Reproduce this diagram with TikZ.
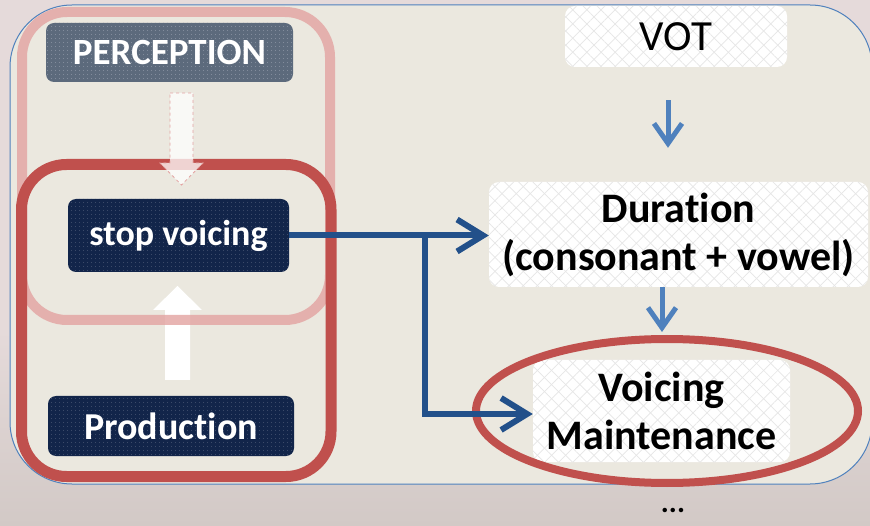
\documentclass[tikz,border=0pt]{standalone}
\usepackage{fontspec}
\setmainfont{Carlito}[Ligatures={NoCommon}]
\usetikzlibrary{arrows.meta,patterns,patterns.meta,shapes.geometric}
\definecolor{bg}{HTML}{E5DADA}
\definecolor{bgdark}{HTML}{D2C9C6}
\definecolor{panel}{HTML}{EBE8DF}
\definecolor{panelline}{HTML}{4F81BD}
\definecolor{navy}{HTML}{12254A}
\definecolor{slate}{HTML}{5C6A7C}
\definecolor{redline}{HTML}{C0504D}
\definecolor{pinkline}{HTML}{E3A3A1}
\definecolor{lblue}{HTML}{4F81BD}
\definecolor{dblue}{HTML}{22508A}
\definecolor{hatch}{HTML}{E6E6E6}
\tikzset{
  darkbox/.style={rounded corners=8, fill=navy, text=white, inner sep=0,
    postaction={pattern={Dots[distance=4pt,radius=0.45pt]}, pattern color=white!35!navy}},
  whitebox/.style={rounded corners=10, fill=white, text=black, inner sep=0, align=center,
    postaction={pattern={Lines[angle=45,distance=10pt,line width=0.7pt]}, pattern color=hatch},
    postaction={pattern={Lines[angle=-45,distance=10pt,line width=0.7pt]}, pattern color=hatch}},
  lbarrow/.style={draw=lblue, line width=5, -{Straight Barb[length=20,width=28]}},
  dbarrow/.style={draw=dblue, line width=6, -{Straight Barb[length=26,width=32]}},
}
\newcommand{\fs}[1]{\fontsize{#1}{#1}\selectfont}
\begin{document}
\begin{tikzpicture}[x=1pt,y=-1pt]
\useasboundingbox (0,0) rectangle (870,526);
\fill[bg] (0,0) rectangle (870,526);
\shade[top color=bg, bottom color=bgdark] (0,330) rectangle (870,526);
% main panel
\draw[panelline, line width=1, fill=panel, rounded corners=62] (10,5) rectangle (872,484);
% up arrow (production -> stop voicing)
\fill[white] (165,380) -- (190,380) -- (190,310) -- (202,310) -- (177.5,286) -- (153,310) -- (165,310) -- cycle;
% perception frame
\draw[pinkline, line width=10, rounded corners=45, opacity=0.8] (22,12) rectangle (330,320);
% main red frame
\draw[redline, line width=11, rounded corners=45] (21.5,164.5) rectangle (331,476.5);
% left boxes
\node[darkbox, fill=slate, minimum width=247, minimum height=59, font=\bfseries\fs{37},
  postaction={pattern={Dots[distance=4pt,radius=0.45pt]}, pattern color=white!45!slate}]
  (perc) at (169.5,52.5) {PERCEPTION};
\node[darkbox, minimum width=221, minimum height=73, font=\bfseries\fs{36}] (sv) at (178.5,235.5) {stop voicing};
\node[darkbox, minimum width=246, minimum height=60, font=\bfseries\fs{38}] (prod) at (171,426) {Production};
% down arrow (perception -> stop voicing)
\draw[pinkline, dashed, line width=0.8, fill=white, fill opacity=0.75]
  (170,93) -- (193,93) -- (193,163) -- (203,163) -- (181.5,185) -- (160,163) -- (170,163) -- cycle;
% right boxes
\node[whitebox, minimum width=222, minimum height=61, font=\fs{43}] (vot) at (676,36.5) {VOT};
\node[whitebox, minimum width=379, minimum height=105, font=\bfseries\fs{42}] (dur) at (678.5,234.5) {Duration\\[6pt](consonant + vowel)};
\node[whitebox, minimum width=257, minimum height=102, font=\bfseries\fs{42}] (vm) at (661.5,411) {Voicing\\[6pt]Maintenance};
\node[ellipse, draw=redline, line width=8, minimum width=382, minimum height=144, inner sep=0] (ell) at (667,411) {};
\node[font=\bfseries\fs{30}] (dots) at (673,510) {...};
% connectors
\draw[lbarrow, shorten <=33, shorten >=34] ([xshift=-8]vot.south) -- ([xshift=-10.5]dur.north);
\draw[lbarrow, shorten >=3] ([xshift=-16.5]dur.south) -- ([xshift=-5]ell.north);
\coordinate (br) at (425,235.5);
\draw[dbarrow] (sv.east) -- (dur.west |- sv.east);
\draw[dbarrow] (br) |- ([yshift=-3]vm.west);
\end{tikzpicture}
\end{document}
